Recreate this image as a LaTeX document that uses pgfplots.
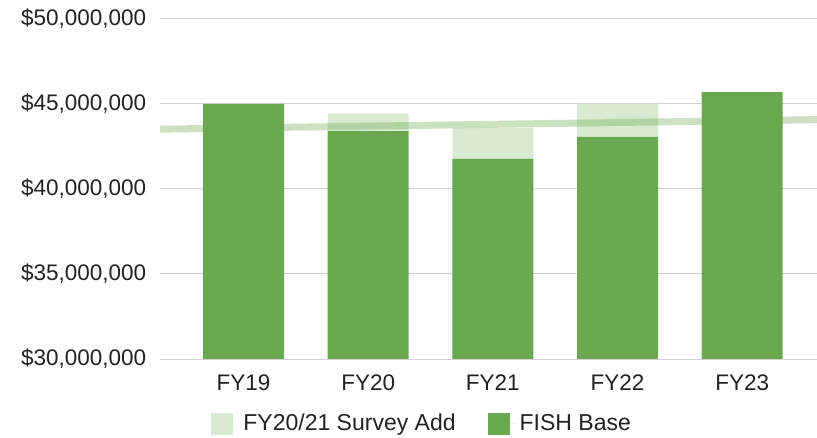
\documentclass[border=0pt]{standalone}
\usepackage{pgfplots}
\pgfplotsset{compat=1.18}
\usepackage{fontspec}
\setmainfont{Liberation Sans}
\definecolor{base}{HTML}{6AA84F}
\definecolor{addc}{HTML}{D9EAD3}
\definecolor{gridc}{HTML}{D0D0D0}
\definecolor{txt}{HTML}{222222}
\begin{document}
\fontsize{20bp}{24bp}\selectfont
\begin{tikzpicture}
\path[use as bounding box] (0,0) rectangle (817bp,438bp);
\begin{axis}[
  at={(160bp,79bp)}, anchor=south west,
  width=657bp, height=340bp, scale only axis,
  ybar stacked, bar width=81bp,
  xmin=-0.67, xmax=4.6,
  ymin=30000000, ymax=50000000,
  axis line style={draw=none},
  ymajorgrids, grid style={gridc, line width=1bp},
  ytick={30000000,35000000,40000000,45000000,50000000},
  yticklabels={{\$30,000,000},{\$35,000,000},{\$40,000,000},{\$45,000,000},{\$50,000,000}},
  scaled y ticks=false,
  xtick={0,1,2,3,4},
  xticklabels={FY19,FY20,FY21,FY22,FY23},
  major tick length=0pt,
  tick style={draw=none},
  tick label style={font=\fontsize{22.5bp}{26bp}\selectfont, text=txt},
  yticklabel style={xshift=-7bp},
  xticklabel style={yshift=-9bp},
  reverse legend,
  legend columns=2,
  legend style={at={(axis description cs:0.399,-0.191)}, anchor=center, draw=none, fill=none,
    font=\fontsize{23bp}{27bp}\selectfont, text=txt,
    /tikz/every even column/.append style={column sep=30bp},
    /tikz/every odd column/.append style={column sep=0bp}},
  legend image code/.code={\fill[#1] (0bp,-11bp) rectangle (22bp,11bp); \path (0bp,0bp) -- (30bp,0bp);},
]
\addplot[fill=base, draw=none] coordinates {(0,45000000) (1,43400000) (2,41770000) (3,43060000) (4,45700000)};
\addlegendentry{FISH Base}
\addplot[fill=addc, draw=none] coordinates {(0,0) (1,1040000) (2,1830000) (3,1940000) (4,0)};
\addlegendentry{FY20/21 Survey Add}
\end{axis}
\begin{axis}[
  at={(160bp,79bp)}, anchor=south west,
  width=657bp, height=340bp, scale only axis,
  xmin=-0.67, xmax=4.6,
  ymin=30000000, ymax=50000000,
  axis lines=none, xtick=\empty, ytick=\empty,
]
\addplot[base, opacity=0.35, line width=7bp] coordinates {(-0.67,43520000) (4.6,44080000)};
\end{axis}
\end{tikzpicture}
\end{document}
